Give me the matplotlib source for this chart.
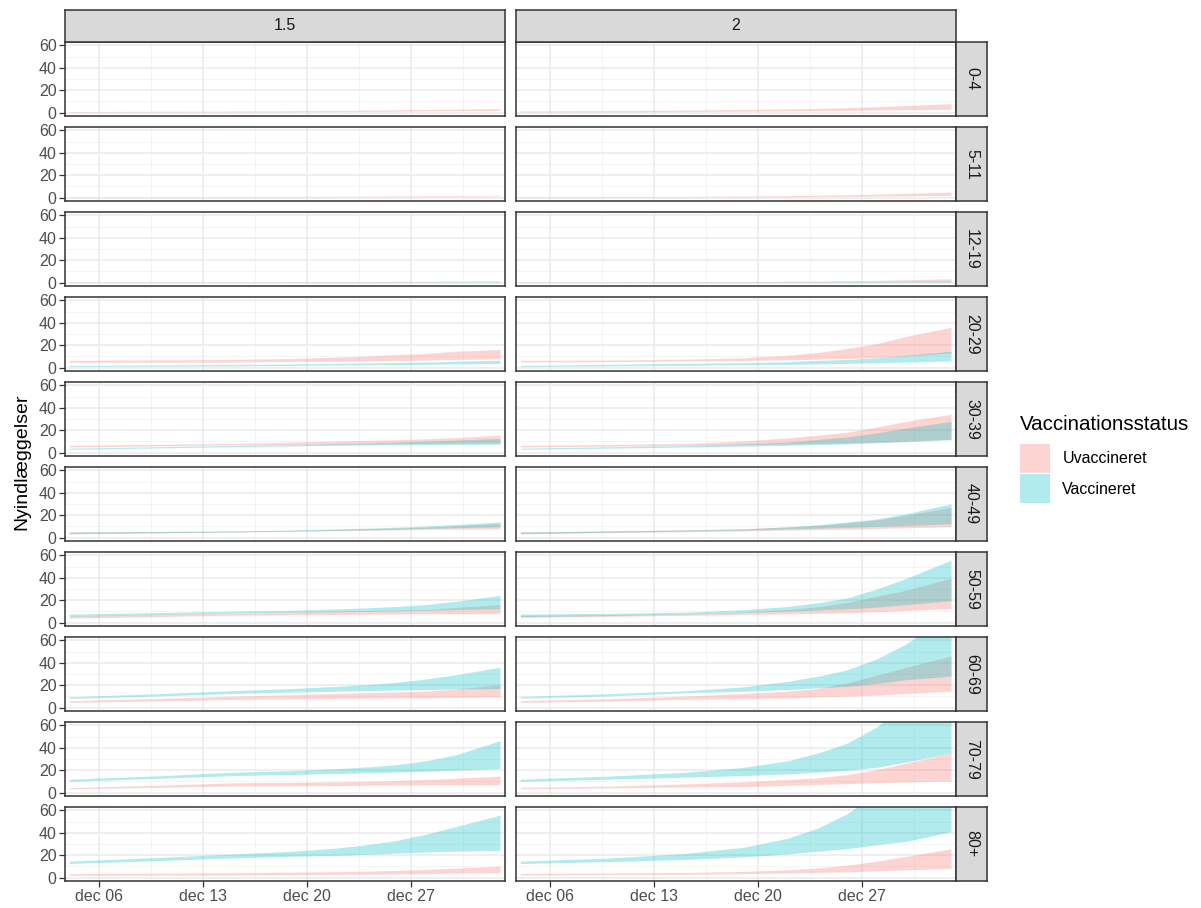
import numpy as np
import matplotlib
matplotlib.use("Agg")
import matplotlib.pyplot as plt
from matplotlib.patches import Patch

plt.rcParams['font.family'] = ['Liberation Sans', 'DejaVu Sans']

# ---------------------------------------------------------------
# Data
ages = ["0-4", "5-11", "12-19", "20-29", "30-39", "40-49", "50-59", "60-69", "70-79", "80+"]
scenarios = ["1.5", "2"]
status = ["Uvaccineret", "Vaccineret"]
dates = np.array(["2021-12-04", "2021-12-10", "2021-12-15", "2021-12-19", "2021-12-22",
                  "2021-12-24", "2021-12-26", "2021-12-28", "2021-12-30", "2022-01-02"],
                 dtype="datetime64[D]")
tick_dates = np.array(["2021-12-06", "2021-12-13", "2021-12-20", "2021-12-27"], dtype="datetime64[D]")
tick_labels = ["dec 06", "dec 13", "dec 20", "dec 27"]
minor_dates = np.array(["2021-12-09T12", "2021-12-16T12", "2021-12-23T12", "2021-12-30T12"],
                       dtype="datetime64[h]")

zeros = [0, 0, 0, 0, 0, 0, 0, 0, 0, 0]

# scenario 1.5 - uvaccineret
u15_lo = [
    [0.5, 0.6, 0.7, 0.9, 1.0, 1.1, 1.3, 1.5, 1.7, 2.0],
    [0.3, 0.4, 0.5, 0.6, 0.7, 0.8, 0.9, 1.0, 1.2, 1.4],
    [0.2, 0.3, 0.4, 0.5, 0.5, 0.6, 0.7, 0.8, 0.9, 1.0],
    [4.7, 4.9, 5.0, 5.5, 5.9, 6.1, 6.4, 6.7, 7.2, 7.9],
    [5.0, 6.0, 7.0, 7.3, 7.6, 7.8, 8.0, 8.2, 8.4, 8.5],
    [3.5, 4.3, 5.0, 5.6, 6.2, 6.5, 6.9, 7.3, 7.6, 7.9],
    [4.0, 5.4, 6.7, 7.0, 7.3, 7.5, 7.7, 7.9, 7.9, 7.9],
    [4.7, 6.0, 7.3, 7.7, 8.2, 8.4, 8.6, 8.8, 9.1, 9.4],
    [3.5, 4.7, 5.9, 6.1, 6.3, 6.5, 6.8, 7.0, 7.0, 7.0],
    [2.0, 2.2, 2.3, 2.6, 2.9, 3.1, 3.3, 3.5, 4.0, 4.4],
]
u15_hi = [
    [1.0, 1.2, 1.4, 1.7, 2.0, 2.2, 2.5, 2.8, 3.1, 3.5],
    [0.6, 0.7, 0.9, 1.0, 1.2, 1.3, 1.5, 1.7, 1.9, 2.1],
    [0.4, 0.5, 0.6, 0.8, 0.9, 1.0, 1.1, 1.3, 1.4, 1.6],
    [6.5, 6.9, 7.3, 8.2, 9.4, 10.3, 11.7, 12.6, 14.7, 16.1],
    [6.5, 7.5, 8.2, 9.4, 10.3, 10.9, 11.5, 12.3, 13.5, 15.5],
    [5.0, 5.5, 5.9, 6.5, 7.3, 7.9, 8.6, 9.4, 10.6, 12.6],
    [6.0, 7.4, 8.8, 9.6, 10.3, 10.8, 11.2, 11.7, 13.5, 16.1],
    [6.2, 8.2, 10.3, 11.5, 12.6, 13.3, 14.0, 14.7, 16.5, 20.5],
    [4.5, 6.6, 8.8, 9.2, 9.7, 10.2, 10.9, 11.7, 12.9, 14.7],
    [3.5, 4.0, 4.4, 4.9, 5.3, 5.8, 6.5, 7.3, 8.5, 10.3],
]
# scenario 1.5 - vaccineret
v15_lo = [
    zeros,
    zeros,
    [0.1, 0.15, 0.2, 0.25, 0.3, 0.3, 0.35, 0.4, 0.45, 0.5],
    [1.0, 1.3, 1.5, 1.9, 2.3, 2.5, 2.7, 2.9, 3.3, 3.8],
    [3.0, 4.2, 5.3, 6.0, 6.5, 6.8, 7.0, 7.2, 7.3, 7.5],
    [3.5, 4.3, 5.0, 5.9, 6.5, 6.9, 7.5, 8.2, 8.8, 9.7],
    [5.6, 7.2, 8.8, 9.3, 9.7, 10.1, 10.6, 11.1, 11.7, 12.3],
    [8.2, 10.5, 12.6, 13.9, 14.7, 15.2, 15.7, 16.1, 16.6, 17.0],
    [10.0, 12.8, 15.2, 16.2, 17.0, 17.7, 18.3, 19.0, 20.0, 21.4],
    [12.6, 15.2, 17.6, 19.0, 19.9, 20.7, 21.8, 22.9, 23.6, 24.3],
]
v15_hi = [
    zeros,
    zeros,
    [0.2, 0.3, 0.35, 0.45, 0.5, 0.55, 0.65, 0.7, 0.8, 0.9],
    [2.0, 2.5, 2.9, 3.3, 3.8, 4.2, 4.6, 5.0, 5.7, 6.7],
    [4.0, 5.3, 6.5, 7.3, 8.2, 8.7, 9.3, 10.3, 11.2, 12.6],
    [5.0, 5.5, 5.9, 6.8, 7.9, 8.5, 9.3, 10.3, 11.7, 14.0],
    [7.6, 9.0, 10.3, 11.1, 12.3, 13.2, 14.4, 16.1, 19.0, 24.3],
    [9.7, 12.5, 15.2, 17.0, 19.0, 20.5, 22.6, 25.5, 29.3, 36.0],
    [12.0, 15.0, 18.2, 19.6, 21.4, 22.9, 24.9, 28.4, 33.7, 46.3],
    [14.7, 18.0, 21.1, 23.5, 26.4, 29.3, 33.1, 38.7, 45.5, 55.7],
]
# scenario 2 - uvaccineret
u2_lo = [
    [0.6, 0.8, 1.0, 1.3, 1.6, 1.8, 2.0, 2.3, 2.6, 3.0],
    [0.3, 0.4, 0.6, 0.7, 0.9, 1.0, 1.2, 1.4, 1.6, 2.0],
    [0.2, 0.3, 0.4, 0.5, 0.6, 0.6, 0.7, 0.8, 0.9, 1.0],
    [5.0, 5.4, 5.9, 6.5, 7.0, 7.5, 8.0, 9.0, 10.5, 13.0],
    [5.0, 5.8, 6.6, 7.2, 7.7, 8.1, 8.6, 9.3, 10.2, 12.0],
    [3.5, 4.5, 5.3, 6.0, 6.7, 7.1, 7.5, 8.2, 8.8, 9.7],
    [4.7, 5.6, 6.5, 7.3, 7.8, 8.2, 8.9, 9.7, 10.9, 12.6],
    [4.7, 5.8, 7.3, 7.9, 8.6, 9.4, 10.2, 11.1, 12.6, 14.7],
    [3.5, 4.2, 5.0, 5.3, 6.5, 7.3, 8.0, 8.8, 9.5, 10.3],
    [2.3, 2.7, 2.9, 3.6, 4.1, 4.6, 5.2, 5.9, 7.0, 8.2],
]
u2_hi = [
    [1.5, 1.9, 2.3, 2.8, 3.3, 3.8, 4.4, 5.3, 6.3, 8.0],
    [0.7, 0.9, 1.1, 1.4, 1.8, 2.1, 2.5, 3.1, 3.8, 5.0],
    [0.5, 0.6, 0.8, 0.9, 1.2, 1.4, 1.7, 2.1, 2.6, 3.5],
    [6.5, 6.8, 7.5, 8.8, 11.1, 13.5, 17.0, 21.5, 27.9, 36.0],
    [6.5, 7.3, 8.2, 10.3, 13.2, 15.5, 18.2, 22.9, 27.9, 34.3],
    [5.0, 6.0, 6.8, 7.8, 9.5, 11.0, 13.2, 15.8, 20.0, 27.0],
    [6.5, 7.2, 7.9, 9.4, 11.7, 14.0, 18.0, 23.5, 29.0, 39.6],
    [6.2, 8.0, 10.3, 12.6, 14.7, 17.0, 22.0, 29.0, 36.0, 46.0],
    [4.7, 5.8, 7.8, 9.7, 11.7, 13.2, 16.1, 20.5, 26.4, 35.2],
    [3.8, 4.1, 4.6, 5.5, 7.0, 8.6, 11.1, 14.7, 19.0, 25.8],
]
# scenario 2 - vaccineret
v2_lo = [
    zeros,
    zeros,
    [0.1, 0.15, 0.2, 0.25, 0.3, 0.35, 0.4, 0.45, 0.5, 0.5],
    [1.0, 1.5, 2.0, 2.6, 2.9, 3.3, 3.8, 4.3, 5.0, 5.9],
    [3.0, 4.0, 5.0, 5.8, 6.6, 7.2, 7.8, 8.8, 9.8, 11.5],
    [3.5, 4.8, 5.8, 6.8, 7.8, 8.5, 9.2, 10.0, 10.8, 12.3],
    [5.3, 6.4, 7.6, 9.0, 10.3, 11.2, 12.4, 13.8, 16.1, 19.6],
    [8.5, 10.5, 13.2, 14.7, 16.1, 17.6, 19.0, 21.5, 25.0, 28.0],
    [10.0, 12.0, 13.8, 15.2, 16.7, 18.2, 19.9, 22.6, 27.3, 35.2],
    [12.6, 14.3, 16.1, 18.5, 21.1, 23.5, 25.8, 29.3, 32.3, 41.0],
]
v2_hi = [
    zeros,
    zeros,
    [0.2, 0.3, 0.4, 0.5, 0.6, 0.7, 0.9, 1.0, 1.2, 1.5],
    [2.0, 3.0, 3.8, 4.4, 5.3, 6.5, 7.3, 8.8, 11.1, 14.7],
    [4.0, 5.3, 6.5, 7.9, 9.4, 11.7, 14.0, 17.6, 22.0, 27.9],
    [5.0, 6.0, 6.9, 7.9, 9.7, 11.4, 14.0, 16.7, 21.4, 30.2],
    [7.6, 8.3, 9.3, 11.5, 14.5, 17.6, 22.0, 30.0, 39.6, 55.7],
    [10.0, 12.5, 15.0, 18.5, 23.5, 27.9, 33.7, 43.5, 57.0, 85.0],
    [12.0, 14.8, 18.0, 22.5, 28.4, 35.2, 44.0, 58.7, 80.0, 120.0],
    [14.7, 17.5, 21.5, 27.0, 35.2, 44.0, 57.0, 75.0, 95.0, 130.0],
]

bands = {
    "1.5": [(u15_lo, u15_hi), (v15_lo, v15_hi)],
    "2": [(u2_lo, u2_hi), (v2_lo, v2_hi)],
}
colors = ["#F8766D", "#00BFC4"]

# ---------------------------------------------------------------
W, H = 1201, 908
fig = plt.figure(figsize=(W / 100, H / 100), dpi=100)


def box(x0, y0, w, h):
    # pixel box (from top-left) -> figure fraction
    return [x0 / W, 1 - (y0 + h) / H, w / W, h / H]


def strip(rect, label, rot=0):
    st = fig.add_axes(rect)
    st.set_facecolor('#D9D9D9')
    st.set_xticks([]), st.set_yticks([])
    for s in st.spines.values():
        s.set_color('#333333')
        s.set_linewidth(1.1)
    st.text(0.5, 0.5, label, ha='center', va='center', rotation=rot, fontsize=11.5,
            color='#1A1A1A', transform=st.transAxes)


col_x = [65, 516]
pw, ph = 440, 74
xmin = dates[0] - np.timedelta64(7, 'h')
xmax = dates[-1] + np.timedelta64(8, 'h')

for r, age in enumerate(ages):
    for c, sc in enumerate(scenarios):
        ax = fig.add_axes(box(col_x[c], 42 + 85 * r, pw, ph))
        for k in range(2):
            lo, hi = bands[sc][k]
            ax.fill_between(dates, lo[r], hi[r], color=colors[k], alpha=0.3, linewidth=0)
        ax.set_xlim(xmin, xmax)
        ax.set_ylim(-3, 63)
        ax.set_yticks([0, 20, 40, 60])
        ax.set_yticks([10, 30, 50], minor=True)
        ax.set_xticks(tick_dates)
        ax.set_xticks(minor_dates, minor=True)
        ax.grid(which='major', color='#EBEBEB', lw=1.1)
        ax.grid(which='minor', color='#F3F3F3', lw=0.6)
        ax.set_axisbelow(True)
        for s in ax.spines.values():
            s.set_color('#333333')
            s.set_linewidth(1.1)
        ax.tick_params(which='minor', length=0)
        ax.tick_params(which='major', length=4, width=0.9, color='#333333',
                       labelcolor='#4D4D4D', labelsize=11.5, pad=2)
        if r == len(ages) - 1:
            ax.set_xticklabels(tick_labels)
        else:
            ax.tick_params(axis='x', length=0, labelbottom=False)
        if c != 0:
            ax.tick_params(axis='y', length=0, labelleft=False)

        # top strips
        if r == 0:
            strip(box(col_x[c], 10, pw, 32), sc)

    # right strip
    strip(box(956, 42 + 85 * r, 31, ph), age, rot=-90)

# y label
fig.text(22 / W, 1 - 462 / H, "Nyindlæggelser", rotation=90, ha='center', va='center',
         fontsize=14, color='black')

# legend
fig.text(1020 / W, 1 - 425 / H, "Vaccinationsstatus", ha='left', va='center',
         fontsize=14.8, color='black')
handles = [Patch(facecolor=colors[k], alpha=0.3, edgecolor='none') for k in range(2)]
fig.legend(handles, status, loc='upper left', bbox_to_anchor=(1020 / W, 1 - 444 / H),
           frameon=False, fontsize=11.5, handlelength=1.9, handleheight=2.4,
           labelspacing=0.1, handletextpad=0.75, borderpad=0, borderaxespad=0)

fig.savefig("out.png", dpi=100)
